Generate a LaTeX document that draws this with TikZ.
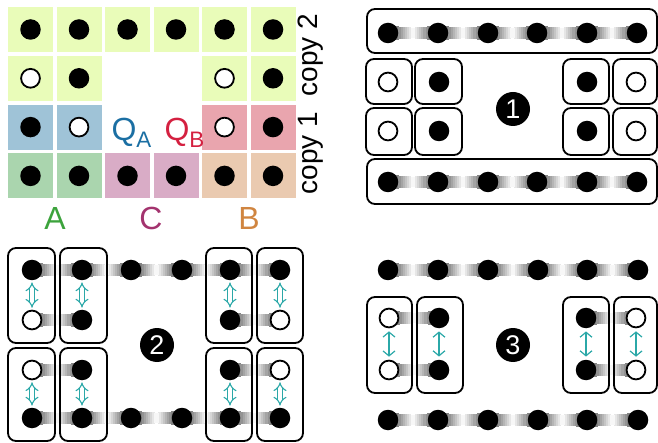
\documentclass[tikz,border=0pt]{standalone}
\usepackage{fontspec}
\setmainfont{Liberation Sans}
\usetikzlibrary{arrows.meta,calc}
\definecolor{yg}{HTML}{E9FCB9}
\definecolor{cblue}{HTML}{9FC3D7}
\definecolor{cpink}{HTML}{E9A5AE}
\definecolor{cgreen}{HTML}{AAD5AE}
\definecolor{cmauve}{HTML}{D9ACC6}
\definecolor{cpeach}{HTML}{EACAB0}
\definecolor{qablue}{HTML}{1B6FA3}
\definecolor{qbred}{HTML}{D42040}
\definecolor{lagreen}{HTML}{3CA33C}
\definecolor{lcpurple}{HTML}{A3336E}
\definecolor{lborange}{HTML}{D08540}
\definecolor{arrteal}{HTML}{2BA8A8}
% shaded band between two named coordinates (drawn before the dots)
\newcommand\band[2]{%
  \foreach \s in {0,...,11} {%
    \pgfmathsetmacro\ta{\s/24}%
    \pgfmathsetmacro\tb{(\s+1.25)/24}%
    \pgfmathsetmacro\hh{7.5-2.2*(\s+0.5)/12}%
    \pgfmathsetmacro\pc{78*(1-(\s+0.5)/12)}%
    \fill[black!\pc] ($(#1)!\ta!(#2)+(0,-\hh)$) rectangle ($(#1)!\tb!(#2)+(0,\hh)$);%
    \fill[black!\pc] ($(#2)!\ta!(#1)+(0,-\hh)$) rectangle ($(#2)!\tb!(#1)+(0,\hh)$);%
  }}
\begin{document}
\begin{tikzpicture}[x=1pt,y=-1pt,
  dot/.style={circle, fill=black, minimum size=20.5pt, inner sep=0pt},
  odot/.style={circle, draw=black, line width=1.8pt, fill=white, minimum size=18.8pt, inner sep=0pt},
  cell/.style={minimum size=45pt, inner sep=0pt},
  box/.style={draw=black, line width=1.8pt, rounded corners=8pt},
  num/.style={circle, fill=black, text=white, minimum size=34pt, inner sep=0pt, font=\fontsize{27}{27}\selectfont},
  big/.style={font=\fontsize{32}{32}\selectfont},
  cpy/.style={font=\fontsize{28}{28}\selectfont, rotate=90},
  dblarr/.style={draw=arrteal, double=white, double distance=3.4pt, line width=1.1pt, {Implies[length=5pt,width=14pt]}-{Implies[length=5pt,width=14pt]}, shorten <=2pt, shorten >=2pt},
  thinarr/.style={draw=arrteal, line width=1.2pt, {Straight Barb[length=5pt,width=12pt]}-{Straight Barb[length=5pt,width=12pt]}, shorten <=3pt, shorten >=3pt}
]
\useasboundingbox (0,0) rectangle (658,443);

% ---------- top-left grid ----------
\foreach \i/\j/\c in {0/0/yg,1/0/yg,2/0/yg,3/0/yg,4/0/yg,5/0/yg,
                      0/1/yg,1/1/yg,4/1/yg,5/1/yg,
                      0/2/cblue,1/2/cblue,4/2/cpink,5/2/cpink,
                      0/3/cgreen,1/3/cgreen,2/3/cmauve,3/3/cmauve,4/3/cpeach,5/3/cpeach}
  \node[cell, fill=\c] (c\i\j) at ({30.5+48.5*\i},{29.5+48.8*\j}) {};
\foreach \i/\j in {0/0,1/0,2/0,3/0,4/0,5/0,1/1,5/1,0/2,5/2,0/3,1/3,2/3,3/3,4/3,5/3}
  \node[dot] (t\i\j) at (c\i\j) {};
\foreach \i/\j in {0/1,4/1,1/2,4/2}
  \node[odot] (t\i\j) at (c\i\j) {};
\node[big, text=qablue, anchor=base west] (qa) at (108,141) {Q\textsubscript{A}};
\node[big, text=qbred, anchor=base west] (qb) at (161,141) {Q\textsubscript{B}};
\node[cpy] (cp2) at (311,55) {copy 2};
\node[cpy] (cp1) at (311,153) {copy 1};
\node[big, text=lagreen, anchor=base] (la) at (55,230) {A};
\node[big, text=lcpurple, anchor=base] (lc) at (151,230) {C};
\node[big, text=lborange, anchor=base] (lb) at (249,230) {B};

% ---------- panel 1 ----------
\foreach \x [count=\i] in {388,438,488,537,587,637} {
  \coordinate (pa\i) at (\x,33);
  \coordinate (pd\i) at (\x,182);
}
\foreach \i/\j in {1/2,2/3,3/4,4/5,5/6} { \band{pa\i}{pa\j} \band{pd\i}{pd\j} }
\foreach \i in {1,...,6} {
  \node[dot] (dpa\i) at (pa\i) {};
  \node[dot] (dpd\i) at (pd\i) {};
}
\node[odot] (pb1) at (388,82) {};
\node[dot]  (pb2) at (439,82) {};
\node[dot]  (pb5) at (587,82) {};
\node[odot] (pb6) at (636,82) {};
\node[odot] (pc1) at (388,131) {};
\node[dot]  (pc2) at (439,131) {};
\node[dot]  (pc5) at (587,131) {};
\node[odot] (pc6) at (636,131) {};
\draw[box] (367,9) rectangle (657,53);
\draw[box] (367,159) rectangle (657,204);
\foreach \a/\b in {366/412,415/462,563/609,613/657} {
  \draw[box] (\a,59) rectangle (\b,104);
  \draw[box] (\a,108) rectangle (\b,155);
}
\node[num] (n1) at (513,109) {1};

% ---------- panel 2 ----------
\foreach \x [count=\i] in {32,82,131,182,230,280} {
  \coordinate (qa\i) at (\x,270);
  \coordinate (qd\i) at (\x,418);
}
\foreach \k/\x in {1/32,2/82,5/230,6/280} {
  \coordinate (qb\k) at (\x,320);
  \coordinate (qc\k) at (\x,370);
}
\foreach \i/\j in {1/2,2/3,3/4,4/5,5/6} { \band{qa\i}{qa\j} \band{qd\i}{qd\j} }
\band{qb1}{qb2} \band{qb5}{qb6} \band{qc1}{qc2} \band{qc5}{qc6}
\foreach \i in {1,...,6} {
  \node[dot] (dqa\i) at (qa\i) {};
  \node[dot] (dqd\i) at (qd\i) {};
}
\node[odot] (dqb1) at (qb1) {};
\node[dot]  (dqb2) at (qb2) {};
\node[dot]  (dqb5) at (qb5) {};
\node[odot] (dqb6) at (qb6) {};
\node[odot] (dqc1) at (qc1) {};
\node[dot]  (dqc2) at (qc2) {};
\node[dot]  (dqc5) at (qc5) {};
\node[odot] (dqc6) at (qc6) {};
\foreach \a/\b in {8/55,60/107,206/252,257/303} {
  \draw[box] (\a,248) rectangle (\b,343);
  \draw[box] (\a,348) rectangle (\b,441);
}
\foreach \k in {1,2,5,6} {
  \draw[dblarr] (dqa\k) -- (dqb\k);
  \draw[dblarr] (dqc\k) -- (dqd\k);
}
\node[num] (n2) at (157,345) {2};

% ---------- panel 3 ----------
\foreach \x [count=\i] in {388,438,488,538,587,638} {
  \coordinate (ra\i) at (\x,270);
  \coordinate (rd\i) at (\x,420);
}
\foreach \k/\x in {1/389,2/439,5/586,6/636} {
  \coordinate (rb\k) at (\x,318);
  \coordinate (rc\k) at (\x,370);
}
\foreach \i/\j in {1/2,2/3,3/4,4/5,5/6} { \band{ra\i}{ra\j} \band{rd\i}{rd\j} }
\band{rb1}{rb2} \band{rb5}{rb6} \band{rc1}{rc2} \band{rc5}{rc6}
\foreach \i in {1,...,6} {
  \node[dot] (dra\i) at (ra\i) {};
  \node[dot] (drd\i) at (rd\i) {};
}
\node[odot] (drb1) at (rb1) {};
\node[dot]  (drb2) at (rb2) {};
\node[dot]  (drb5) at (rb5) {};
\node[odot] (drb6) at (rb6) {};
\node[odot] (drc1) at (rc1) {};
\node[dot]  (drc2) at (rc2) {};
\node[dot]  (drc5) at (rc5) {};
\node[odot] (drc6) at (rc6) {};
\foreach \a/\b in {367/412,417/463,563/609,614/657}
  \draw[box] (\a,297) rectangle (\b,393);
\foreach \k in {1,2,5,6}
  \draw[thinarr] (drb\k) -- (drc\k);
\node[num] (n3) at (513,345) {3};
\end{tikzpicture}
\end{document}
